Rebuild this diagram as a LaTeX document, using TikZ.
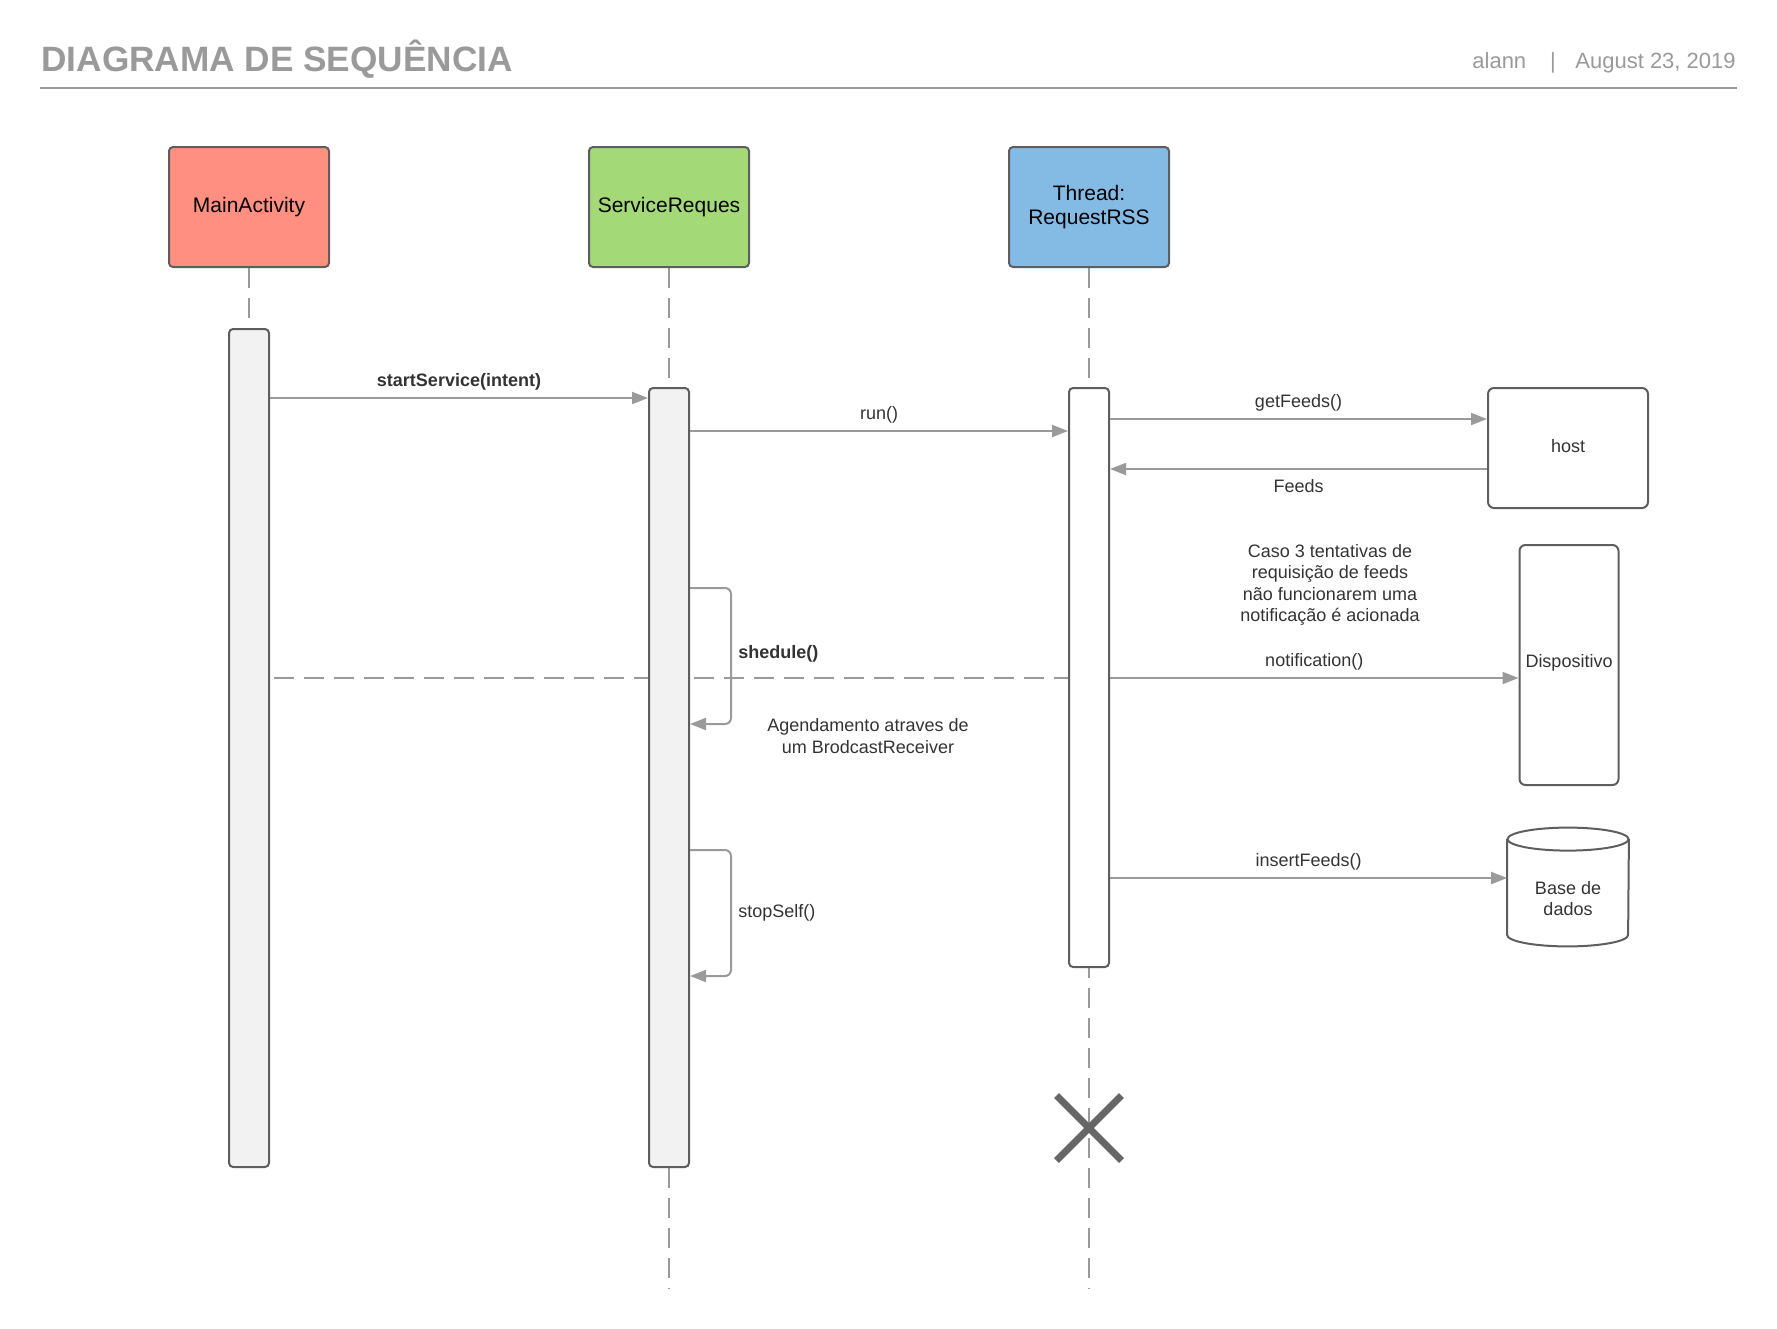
\documentclass[tikz,border=0pt]{standalone}
\usepackage{fontspec}
\setmainfont{Liberation Sans}
\usetikzlibrary{positioning,arrows.meta,shapes.misc,backgrounds}

\definecolor{headred}{HTML}{FF8F80}
\definecolor{headgreen}{HTML}{A3D977}
\definecolor{headblue}{HTML}{83BBE5}
\definecolor{boxgray}{HTML}{5E5E5E}
\definecolor{linegray}{HTML}{9A9A9A}
\definecolor{actfill}{HTML}{F2F2F2}
\definecolor{msgtext}{HTML}{333333}
\definecolor{xgray}{HTML}{666666}

\begin{document}
\begin{tikzpicture}[x=0.5pt,y=-0.5pt,node distance=210pt,on grid,
    head/.style={draw=boxgray,line width=1pt,rounded corners=2pt,minimum width=80pt,
      minimum height=60pt,align=center,font=\fontsize{10.5}{12}\selectfont},
    act/.style={draw=boxgray,line width=1pt,fill=actfill,rounded corners=2pt,
      minimum width=20pt,inner sep=0pt},
    life/.style={draw=linegray,line width=1pt,dash pattern=on 10pt off 5pt},
    msg/.style={draw=linegray,line width=1pt,-{Triangle[length=8pt,width=6pt]}},
    lbl/.style={text=msgtext,font=\fontsize{9}{10.75}\selectfont},
    lblb/.style={text=msgtext,font=\fontsize{9}{10.75}\selectfont\bfseries},
    obj/.style={draw=boxgray,line width=1pt,rounded corners=3pt,inner sep=1pt,
      text=msgtext,font=\fontsize{9}{10.75}\selectfont},
    cyl/.style={draw=boxgray,line width=1pt}]
  \useasboundingbox (0,0) rectangle (1777,1328);

  % header
  \node[anchor=base west,inner sep=0pt,text=linegray,font=\fontsize{17.6}{20}\selectfont\bfseries]
    (title) at (41,71) {DIAGRAMA DE SEQUÊNCIA};
  \node[anchor=base west,inner sep=0pt,text=linegray,font=\fontsize{11}{13}\selectfont]
    (author) at (1472,68) {alann};
  \node[anchor=base,inner sep=0pt,text=linegray,font=\fontsize{11}{13}\selectfont]
    (sep) at (1553,68) {|};
  \node[anchor=base west,inner sep=0pt,text=linegray,font=\fontsize{11}{13}\selectfont]
    (date) at (1575,68) {August 23, 2019};
  \draw[linegray,line width=1pt] (40,88) -- (1737,88);

  % lifeline heads
  \node[head,fill=headred] (ma) at (249,207) {MainActivity};
  \node[head,fill=headgreen,right=of ma] (sr) {ServiceReques};
  \node[head,fill=headblue,right=of sr] (tr) {Thread:\\RequestRSS};

  % activations
  \node[act,minimum height=419pt] (actMA) at (ma |- 0,748) {};
  \node[act,minimum height=389.5pt] (actSR) at (sr |- 0,777.5) {};
  \node[act,fill=white,minimum height=289.5pt] (actTR) at (tr |- 0,677.5) {};

  % other objects
  \node[obj,minimum width=80pt,minimum height=60pt,text depth=2pt] (host) at (1568,448) {host};
  \node[obj,minimum width=49.5pt,minimum height=120pt,text depth=4pt] (disp) at (1569,665) {Dispositivo};
  \node[lbl,minimum width=60.5pt,minimum height=47.5pt,align=center,inner sep=0pt]
    (db) at (1568,898.5) {Base de\\dados};
  \draw[cyl] ([yshift=5.75pt]db.north west) -- ([yshift=5.75pt]db.south west)
    arc[start angle=180,end angle=360,x radius=30.25pt,y radius=5.75pt]
    -- ([yshift=5.75pt]db.north east);
  \draw[cyl] ([yshift=5.75pt]db.north) ellipse[x radius=30.25pt,y radius=5.75pt];

  \coordinate (srEnd) at (sr |- 0,1289);
  \coordinate (trEnd) at (tr |- 0,1289);
  \begin{scope}[on background layer]
    \draw[life] (ma.south) -- (actMA.north);
    \draw[life] (sr.south) -- (srEnd);
    \draw[life] (tr.south) -- (trEnd);
    \draw[life,shorten <=2pt] (actMA.east |- 0,678) -- (actTR.west |- 0,678);
  \end{scope}

  % messages
  \draw[msg] (actMA.east |- 0,398) -- node[lblb,above] {startService(intent)} (actSR.west |- 0,398);
  \draw[msg] (actSR.east |- 0,431) -- node[lbl,above] {run()} (actTR.west |- 0,431);
  \draw[msg] (actTR.east |- 0,419) -- node[lbl,above] {getFeeds()} (host.west |- 0,419);
  \draw[msg] (host.west |- 0,469) -- node[lbl,below=1.5pt] {Feeds} (actTR.east |- 0,469);
  \draw[msg] (actTR.east |- 0,678) -- node[lbl,above] {notification()} (disp.west |- 0,678);
  \draw[msg] (actTR.east |- 0,878) -- node[lbl,above] {insertFeeds()} (db.west |- 0,878);

  % self calls
  \draw[msg,rounded corners=3pt] (actSR.east |- 0,588) -- ++(41,0) -- ++(0,136) -- (actSR.east |- 0,724);
  \draw[msg,rounded corners=3pt] (actSR.east |- 0,850) -- ++(41,0) -- ++(0,126) -- (actSR.east |- 0,976);
  \node[lblb,anchor=west,inner sep=0pt] (shedLbl) at (738,654) {shedule()};
  \node[lbl,anchor=west,inner sep=0pt] (stopLbl) at (738,913) {stopSelf()};

  % notes
  \node[lbl,align=center] (note) at (1330,585)
    {Caso 3 tentativas de\\requisição de feeds\\ não funcionarem uma\\notificação é acionada};
  \node[lbl,align=center] (agenda) at (868,736) {Agendamento atraves de\\um BrodcastReceiver};

  % end of thread
  \node[draw=xgray,cross out,line width=3.5pt,minimum size=29pt,inner sep=0pt] (kill) at (1089,1128) {};
\end{tikzpicture}
\end{document}
